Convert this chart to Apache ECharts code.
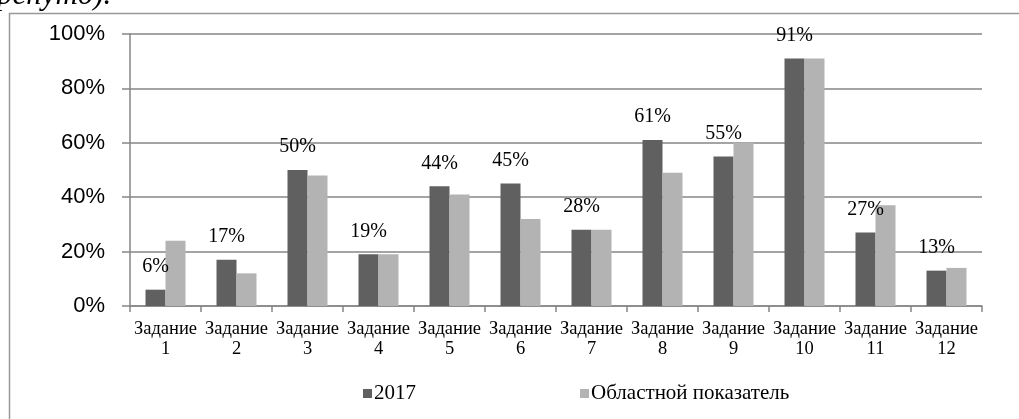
<!DOCTYPE html>
<html>
<head>
<meta charset="utf-8">
<style>
  html, body { margin: 0; padding: 0; background: #fff; }
  #chart { width: 1019px; height: 419px; }
</style>
<script src="https://cdn.jsdelivr.net/npm/echarts@6/dist/echarts.min.js"></script>
</head>
<body>
<div id="chart"></div>
<script>
// категории и значения (в процентах)
var tasks = ['Задание\n1', 'Задание\n2', 'Задание\n3', 'Задание\n4', 'Задание\n5', 'Задание\n6',
  'Задание\n7', 'Задание\n8', 'Задание\n9', 'Задание\n10', 'Задание\n11', 'Задание\n12'];
var values2017 = [6, 17, 50, 19, 44, 45, 28, 61, 55, 91, 27, 13];
var valuesRegion = [24, 12, 48, 19, 41, 32, 28, 49, 60, 91, 37, 14];
var seriesNames = ['2017', 'Областной показатель'];

var chart = echarts.init(document.getElementById('chart'), null, { renderer: 'canvas' });

var serif = '"Liberation Serif", "Times New Roman", serif';
var axisGray = '#868686';

var option = {
  animation: false,
  backgroundColor: '#fff',
  grid: {
    left: 130,
    right: 37,
    top: 34,
    bottom: 113
  },
  // обрезанная подпись сверху и рамка
  graphic: [{
    type: 'text',
    left: -3,
    top: -20,
    style: {
      text: 'ренуто).',
      font: 'italic 31px ' + serif,
      fill: '#000'
    }
  }, {
    type: 'rect',
    shape: { x: 9.5, y: 13.5, width: 1100, height: 500 },
    style: { fill: 'none', stroke: '#999', lineWidth: 1.5 },
    z: -1
  }],
  legend: [{
    data: [seriesNames[0]],
    left: 358,
    top: 378,
    itemWidth: 9,
    itemHeight: 9,
    icon: 'rect',
    textStyle: { fontFamily: serif, fontSize: 21, color: '#000', padding: [0, 0, 0, -3] }
  }, {
    data: [seriesNames[1]],
    left: 575,
    top: 378,
    itemWidth: 9,
    itemHeight: 9,
    icon: 'rect',
    textStyle: { fontFamily: serif, fontSize: 21, color: '#000', padding: [0, 0, 0, -3] }
  }],
  xAxis: {
    type: 'category',
    data: tasks,
    boundaryGap: true,
    axisLine: { lineStyle: { color: axisGray, width: 1.5 } },
    axisTick: { show: true, interval: 0, length: 6, lineStyle: { color: axisGray, width: 1.5 } },
    axisLabel: {
      interval: 0,
      margin: 13,
      fontFamily: serif,
      fontSize: 18.5,
      lineHeight: 20,
      color: '#000'
    }
  },
  yAxis: {
    type: 'value',
    min: 0,
    max: 100,
    interval: 20,
    axisLine: { show: true, lineStyle: { color: axisGray, width: 1.5 } },
    axisTick: { show: true, length: 8, lineStyle: { color: axisGray, width: 1.5 } },
    splitLine: { lineStyle: { color: axisGray, width: 1.5 } },
    axisLabel: {
      formatter: '{value}%',
      margin: 25,
      fontFamily: '"Liberation Sans", Arial, sans-serif',
      fontSize: 22,
      color: '#000'
    }
  },
  series: [{
    name: seriesNames[0],
    type: 'bar',
    data: values2017,
    barWidth: 20,
    barGap: '0%',
    itemStyle: { color: '#606060' },
    label: {
      show: true,
      position: 'top',
      distance: 13,
      formatter: '{c}%',
      fontFamily: serif,
      fontSize: 20,
      color: '#000'
    }
  }, {
    name: seriesNames[1],
    type: 'bar',
    data: valuesRegion,
    barWidth: 20,
    barGap: '0%',
    itemStyle: { color: '#b3b3b3' }
  }]
};

chart.setOption(option);
</script>
</body>
</html>
